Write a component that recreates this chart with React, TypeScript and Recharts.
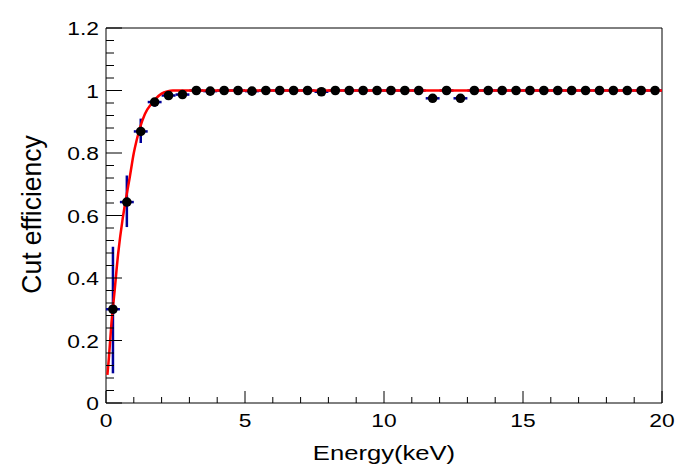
import React from 'react';
import { ComposedChart, Scatter, Line, XAxis, YAxis, ErrorBar, ReferenceArea, Label } from 'recharts';

// bin centres (keV), measured cut efficiency and its asymmetric errors
const energy = [
    0.25, 0.75, 1.25, 1.75, 2.25, 2.75, 3.25, 3.75, 4.25, 4.75,
    5.25, 5.75, 6.25, 6.75, 7.25, 7.75, 8.25, 8.75, 9.25, 9.75,
    10.25, 10.75, 11.25, 11.75, 12.25, 12.75, 13.25, 13.75, 14.25, 14.75,
    15.25, 15.75, 16.25, 16.75, 17.25, 17.75, 18.25, 18.75, 19.25, 19.75,
];
const efficiency = [
    0.3, 0.643, 0.869, 0.963, 0.984, 0.987, 1.0, 0.998, 1.0, 1.0,
    0.998, 1.0, 1.0, 1.0, 1.0, 0.996, 1.0, 1.0, 1.0, 1.0,
    1.0, 1.0, 1.0, 0.975, 1.0, 0.975, 1.0, 1.0, 1.0, 1.0,
    1.0, 1.0, 1.0, 1.0, 1.0, 1.0, 1.0, 1.0, 1.0, 1.0,
];
const errLow = [
    0.205, 0.08, 0.037, 0.015, 0.01, 0.01, 0.004, 0.005, 0.004, 0.004,
    0.005, 0.004, 0.004, 0.004, 0.004, 0.006, 0.004, 0.004, 0.004, 0.004,
    0.004, 0.004, 0.004, 0.01, 0.004, 0.01, 0.004, 0.004, 0.004, 0.004,
    0.004, 0.004, 0.004, 0.004, 0.004, 0.004, 0.004, 0.004, 0.004, 0.004,
];
const errHigh = [
    0.2, 0.085, 0.041, 0.012, 0.008, 0.007, 0, 0.002, 0, 0,
    0.002, 0, 0, 0, 0, 0.004, 0, 0, 0, 0,
    0, 0, 0, 0.01, 0, 0.01, 0, 0, 0, 0,
    0, 0, 0, 0, 0, 0, 0, 0, 0, 0,
];
const binHalfWidth = 0.25;

// fit curve
const fitX = [0.05, 0.1, 0.2, 0.3, 0.44, 0.6, 0.75, 0.85, 1.0, 1.1, 1.22, 1.4, 1.64, 1.8, 2.0, 2.2, 2.4, 20];
const fitY = [0.09, 0.14, 0.26, 0.35, 0.48, 0.59, 0.67, 0.72, 0.8, 0.84, 0.88, 0.925, 0.958, 0.975, 0.99, 0.997, 1.0, 1.0];

const xTicks = [0, 1, 2, 3, 4, 5, 6, 7, 8, 9, 10, 11, 12, 13, 14, 15, 16, 17, 18, 19, 20];
const xLabels = [0, 5, 10, 15, 20];
const yTicks = [
    0, 0.04, 0.08, 0.12, 0.16, 0.2, 0.24, 0.28, 0.32, 0.36, 0.4,
    0.44, 0.48, 0.52, 0.56, 0.6, 0.64, 0.68, 0.72, 0.76, 0.8,
    0.84, 0.88, 0.92, 0.96, 1, 1.04, 1.08, 1.12, 1.16, 1.2,
];
const yLabels = [0, 0.2, 0.4, 0.6, 0.8, 1, 1.2];

const points = energy.map((x, i) => ({ x, y: efficiency[i], ex: binHalfWidth, ey: [errLow[i], errHigh[i]] }));
const fitData = fitX.map((x, i) => ({ x, y: fitY[i] }));

const FONT = '"Liberation Sans", Arial, Helvetica, sans-serif';

// ROOT's text comes out a bit wider than Liberation Sans, so stretch it horizontally
const RootText = ({ x, y, size, anchor, rotate = 0, stretch = 1.2, children }: any) => (
    <text
        transform={`translate(${x} ${y}) rotate(${rotate}) scale(${stretch} 1)`}
        textAnchor={anchor}
        fontSize={size}
        fontFamily={FONT}
        fill="#000"
    >
        {children}
    </text>
);

const XTick = (props: any) => {
    const { x, y, payload } = props;
    const major = xLabels.includes(payload.value);
    return (
        <g>
            <line x1={x} y1={y} x2={x} y2={y - (major ? 12 : 6)} stroke="#000" strokeWidth={1} />
            {major && (
                <RootText x={x} y={y + 24} size={19} anchor="middle">
                    {payload.value}
                </RootText>
            )}
        </g>
    );
};

const YTick = (props: any) => {
    const { x, y, payload } = props;
    const major = yLabels.some((v) => Math.abs(v - payload.value) < 1e-6);
    return (
        <g>
            <line x1={x} y1={y} x2={x + (major ? 16 : 8)} y2={y} stroke="#000" strokeWidth={1} />
            {major && (
                <RootText x={x - 7} y={y + 7} size={19} anchor="end">
                    {String(payload.value)}
                </RootText>
            )}
        </g>
    );
};

const Marker = (props: any) => <circle cx={props.cx} cy={props.cy} r={4.8} fill="#000" />;

const App = () => {
    return (
        <div style={{ width: 680, height: 456, fontFamily: FONT }}>
            <ComposedChart width={680} height={456} margin={{ top: 20, right: 26, left: 0, bottom: 1 }}>
                <XAxis
                    type="number"
                    dataKey="x"
                    domain={[0, 20]}
                    ticks={xTicks}
                    interval={0}
                    height={60}
                    tickSize={0}
                    tickMargin={0}
                    tickLine={false}
                    axisLine={false}
                    tick={<XTick />}
                >
                    <Label
                        content={(p: any) => (
                            <RootText x={p.viewBox.x + p.viewBox.width / 2} y={p.viewBox.y + 57} size={21} anchor="middle" stretch={1.22}>
                                Energy(keV)
                            </RootText>
                        )}
                    />
                </XAxis>
                <YAxis
                    type="number"
                    dataKey="y"
                    domain={[0, 1.2]}
                    ticks={yTicks}
                    interval={0}
                    width={98}
                    tickSize={0}
                    tickMargin={0}
                    tickLine={false}
                    axisLine={false}
                    tick={<YTick />}
                >
                    <Label
                        content={(p: any) => (
                            <RootText x={p.viewBox.x + 33} y={p.viewBox.y + p.viewBox.height / 2 - 1} size={27} anchor="middle" rotate={-90} stretch={0.98}>
                                Cut efficiency
                            </RootText>
                        )}
                    />
                </YAxis>
                <ReferenceArea x1={0} x2={20} y1={0} y2={1.2} fill="none" stroke="#000" strokeWidth={1} ifOverflow="visible" />
                <Scatter data={points} dataKey="y" shape={<Marker />} isAnimationActive={false}>
                    <ErrorBar dataKey="ex" direction="x" width={0} stroke="#000099" strokeWidth={2.5} isAnimationActive={false} />
                    <ErrorBar dataKey="ey" direction="y" width={0} stroke="#000099" strokeWidth={2.5} isAnimationActive={false} />
                </Scatter>
                <Line data={fitData} dataKey="y" type="monotone" stroke="#ff0000" strokeWidth={2.5} dot={false} isAnimationActive={false} />
            </ComposedChart>
        </div>
    );
};

export default App;
